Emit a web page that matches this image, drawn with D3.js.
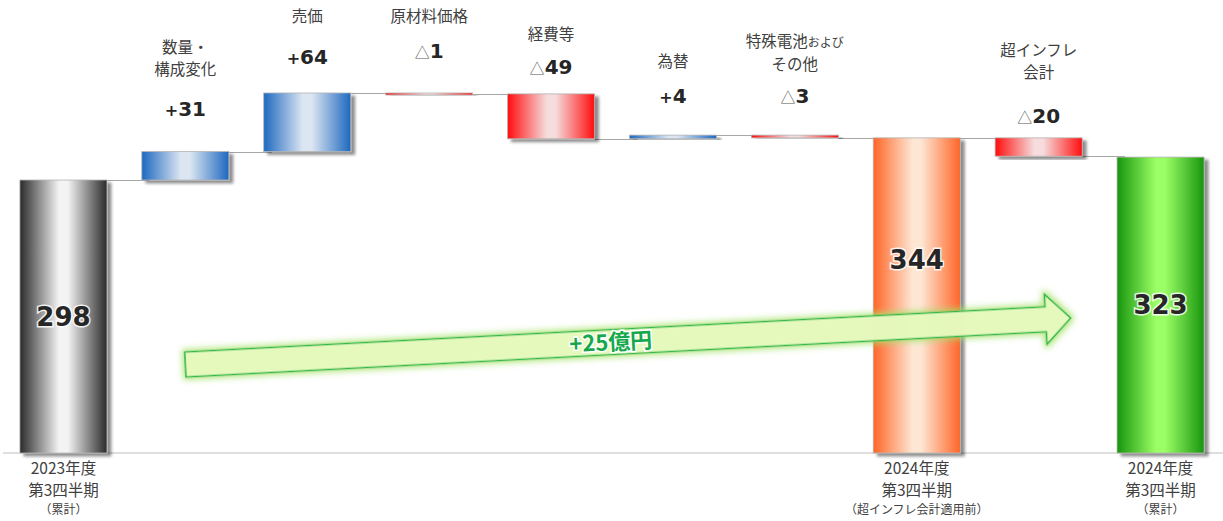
<!DOCTYPE html>
<html lang="ja">
<head>
<meta charset="utf-8">
<script src="https://cdn.jsdelivr.net/npm/d3@7"></script>
<style>
  html, body { margin: 0; padding: 0; background: #ffffff; }
  svg { display: block; }
  text { font-family: "Noto Sans CJK JP", "Noto Sans", sans-serif; }
  .num { font-family: "DejaVu Sans", Verdana, sans-serif; }
</style>
</head>
<body>
<svg id="chart" width="1223" height="521"></svg>
<script>
// ---- data ----------------------------------------------------------------
const categoryLines = [
  ["2023年度", "第3四半期", "（累計）"],
  ["数量・", "構成変化"],
  ["売価"],
  ["原材料価格"],
  ["経費等"],
  ["為替"],
  ["特殊電池{および}", "その他"],
  ["2024年度", "第3四半期", "（超インフレ会計適用前）"],
  ["超インフレ", "会計"],
  ["2024年度", "第3四半期", "（累計）"]
];
const values = [298, 31, 64, -1, -49, 4, -3, 344, -20, 323];
const barKinds = ["start", "up", "up", "down", "down", "up", "down", "subtotal", "down", "total"];
const growthLabel = "+25億円";

// ---- layout (label placement above / inside the bars) --------------------
const valueLift = [0, 41, 35, 41, 26, 38, 38, 0, 21, 0];   // px from bar top to value label
const nameGap   = [0, 41, 42, 36, 33, 36, 33, 0, 44, 0];   // px from value label to last name line
const totalLabelAt = [0.5, 0, 0, 0, 0, 0, 0, 0.615, 0, 0.5];
const bottomLineY = [468, 490, 510];
const nameSize = 15.5, noteSize = 12;

const W = 1223, H = 521;
const svg = d3.select("#chart");

const x = d3.scaleBand()
  .domain(d3.range(values.length))
  .range([2.5, 1221.5])
  .paddingInner(0.286)
  .paddingOuter(0.143);

const y = d3.scaleLinear().domain([0, 494.5]).range([453, 0]);

// running totals -> bar extents
let running = 0;
const bars = values.map((v, i) => {
  const kind = barKinds[i];
  let lo, hi, level;
  if (kind === "start" || kind === "subtotal" || kind === "total") {
    lo = 0; hi = v; running = v; level = v;
  } else {
    const from = running;
    running = from + v;
    lo = Math.min(from, running); hi = Math.max(from, running);
    level = running;
  }
  return { i, v, kind, lo, hi, level };
});

// ---- defs: gradients, shadows, glow --------------------------------------
const defs = svg.append("defs");
const palettes = {
  start:    ["#2b2b2b", "#f3f3f3"],
  up:       ["#1d68bf", "#dce6f2"],
  down:     ["#ff0d0d", "#f6dcdc"],
  subtotal: ["#ff6526", "#fde6d3"],
  total:    ["#17950e", "#9cff66"]
};
Object.entries(palettes).forEach(([k, [edge, mid]]) => {
  const g = defs.append("linearGradient").attr("id", "grad-" + k)
    .attr("x1", "0%").attr("x2", "100%").attr("y1", "0%").attr("y2", "0%");
  [[0, edge], [0.45, mid], [0.55, mid], [1, edge]].forEach(([o, c]) =>
    g.append("stop").attr("offset", o).attr("stop-color", c));
});

const shadow = defs.append("filter").attr("id", "barShadow")
  .attr("x", "-10%").attr("y", "-10%").attr("width", "130%").attr("height", "130%");
shadow.append("feGaussianBlur").attr("in", "SourceAlpha").attr("stdDeviation", 1.6).attr("result", "b");
shadow.append("feOffset").attr("in", "b").attr("dx", 4).attr("dy", 3).attr("result", "o");
shadow.append("feComponentTransfer").attr("in", "o").attr("result", "s")
  .append("feFuncA").attr("type", "linear").attr("slope", 0.45);
const sm = shadow.append("feMerge");
sm.append("feMergeNode").attr("in", "s");
sm.append("feMergeNode").attr("in", "SourceGraphic");

const glow = defs.append("filter").attr("id", "arrowGlow")
  .attr("x", "-5%").attr("y", "-60%").attr("width", "110%").attr("height", "220%");
glow.append("feMorphology").attr("in", "SourceAlpha").attr("operator", "dilate").attr("radius", 2).attr("result", "d");
glow.append("feGaussianBlur").attr("in", "d").attr("stdDeviation", 3).attr("result", "b");
glow.append("feFlood").attr("flood-color", "#a6e36a").attr("flood-opacity", 0.85).attr("result", "c");
glow.append("feComposite").attr("in", "c").attr("in2", "b").attr("operator", "in").attr("result", "g");
const gm = glow.append("feMerge");
gm.append("feMergeNode").attr("in", "g");
gm.append("feMergeNode").attr("in", "SourceGraphic");

// ---- axis baseline -------------------------------------------------------
svg.append("line")
  .attr("x1", 3).attr("x2", W).attr("y1", y(0)).attr("y2", y(0))
  .attr("stroke", "#bfbfbf").attr("stroke-width", 1.2);

// ---- connectors ----------------------------------------------------------
svg.append("g").selectAll("line")
  .data(bars.slice(0, -1))
  .join("line")
  .attr("x1", d => x(d.i) + x.bandwidth())
  .attr("x2", d => x(d.i + 1) + 8)
  .attr("y1", d => Math.round(y(d.level)) + 0.5)
  .attr("y2", d => Math.round(y(d.level)) + 0.5)
  .attr("stroke", "#a6a6a6").attr("stroke-width", 1);

// ---- bars ----------------------------------------------------------------
svg.append("g").selectAll("rect")
  .data(bars)
  .join("rect")
  .attr("x", d => x(d.i))
  .attr("width", x.bandwidth())
  .attr("y", d => y(d.hi))
  .attr("height", d => Math.max(2, y(d.lo) - y(d.hi)))
  .attr("fill", d => `url(#grad-${d.kind})`)
  .attr("stroke", "#b3b3b3").attr("stroke-width", 0.8)
  .attr("filter", "url(#barShadow)");

// ---- growth arrow --------------------------------------------------------
const ax0 = x(1) + x.bandwidth() / 2, ay0 = 364.5;
const ax1 = x(8) + x.bandwidth() / 2 + 32, ay1 = 318;
const len = Math.hypot(ax1 - ax0, ay1 - ay0);
const ang = Math.atan2(ay1 - ay0, ax1 - ax0) * 180 / Math.PI;
const headLen = 25, half = 12.5, headHalf = 25;
const arrowPts = [[0, -half], [len - headLen, -half], [len - headLen, -headHalf], [len, 0],
                  [len - headLen, headHalf], [len - headLen, half], [0, half]];
const arrowG = svg.append("g").attr("transform", `translate(${ax0},${ay0}) rotate(${ang})`);
arrowG.append("path")
  .attr("d", d3.line()(arrowPts) + "Z")
  .attr("fill", "#e8fbc0").attr("fill-opacity", 0.92)
  .attr("stroke", "#2bb84c").attr("stroke-width", 1.6)
  .attr("stroke-linejoin", "miter")
  .attr("filter", "url(#arrowGlow)");
arrowG.append("text")
  .attr("x", 426).attr("y", 0)
  .attr("dy", "0.36em")
  .attr("text-anchor", "middle")
  .attr("font-size", 22).attr("font-weight", 700)
  .attr("fill", "#14a84a")
  .attr("stroke", "#ffffff").attr("stroke-width", 3).attr("paint-order", "stroke")
  .text(growthLabel);

// ---- total labels inside bars --------------------------------------------
svg.append("g").selectAll("text")
  .data(bars.filter(d => d.kind === "start" || d.kind === "subtotal" || d.kind === "total"))
  .join("text")
  .attr("class", "num")
  .attr("x", d => x(d.i) + x.bandwidth() / 2)
  .attr("y", d => y(d.v * totalLabelAt[d.i]))
  .attr("dy", "0.36em")
  .attr("text-anchor", "middle")
  .attr("font-size", 26).attr("font-weight", 700)
  .attr("fill", "#262626")
  .attr("stroke", "#ffffff").attr("stroke-width", 3).attr("stroke-opacity", 0.85)
  .attr("paint-order", "stroke")
  .text(d => d.v);

// ---- delta labels above bars ---------------------------------------------
const deltas = bars.filter(d => d.kind === "up" || d.kind === "down");
const deltaG = svg.append("g").selectAll("g").data(deltas).join("g");

deltaG.each(function (d) {
  const g = d3.select(this);
  const cx = x(d.i) + x.bandwidth() / 2;
  const vy = y(d.hi) - valueLift[d.i];
  const t = g.append("text").attr("class", "num")
    .attr("x", cx).attr("y", vy).attr("dy", "0.36em")
    .attr("text-anchor", "middle").attr("fill", "#262626");
  if (d.v >= 0) {
    t.append("tspan").attr("font-size", 16).attr("font-weight", 700).text("+");
  } else {
    t.append("tspan").attr("font-size", 15).attr("fill", "#595959")
      .attr("font-family", "'Noto Sans CJK JP', sans-serif").text("△");
  }
  t.append("tspan").attr("font-size", 20).attr("font-weight", 700).text(Math.abs(d.v));

  // multi-line category name: one text element, one tspan row per line
  const lines = categoryLines[d.i];
  const lh = 22.5;
  const firstY = vy - nameGap[d.i] - (lines.length - 1) * lh;
  const tt = g.append("text")
    .attr("x", cx).attr("y", firstY)
    .attr("text-anchor", "middle").attr("font-size", nameSize).attr("fill", "#404040");
  lines.forEach((ln, k) => {
    const row = tt.append("tspan").attr("x", cx)
      .attr("y", firstY + k * lh).attr("dy", "0.36em");
    ln.split(/(\{[^}]*\})/).filter(s => s.length).forEach(seg => {
      if (seg.startsWith("{")) {
        row.append("tspan").attr("font-size", noteSize).text(seg.slice(1, -1));
      } else {
        row.append("tspan").text(seg);
      }
    });
  });
});

// ---- category labels under the total bars --------------------------------
const bottomT = svg.append("g").selectAll("text")
  .data(bars.filter(d => d.kind === "start" || d.kind === "subtotal" || d.kind === "total"))
  .join("text")
  .attr("x", d => x(d.i) + x.bandwidth() / 2)
  .attr("y", bottomLineY[0])
  .attr("text-anchor", "middle")
  .attr("fill", "#404040");
bottomT.each(function (d) {
  const t = d3.select(this);
  const cx = x(d.i) + x.bandwidth() / 2;
  categoryLines[d.i].forEach((ln, k) => {
    t.append("tspan")
      .attr("x", cx).attr("y", bottomLineY[k]).attr("dy", "0.36em")
      .attr("font-size", k === 2 ? noteSize : nameSize)
      .text(ln);
  });
});
</script>
</body>
</html>
